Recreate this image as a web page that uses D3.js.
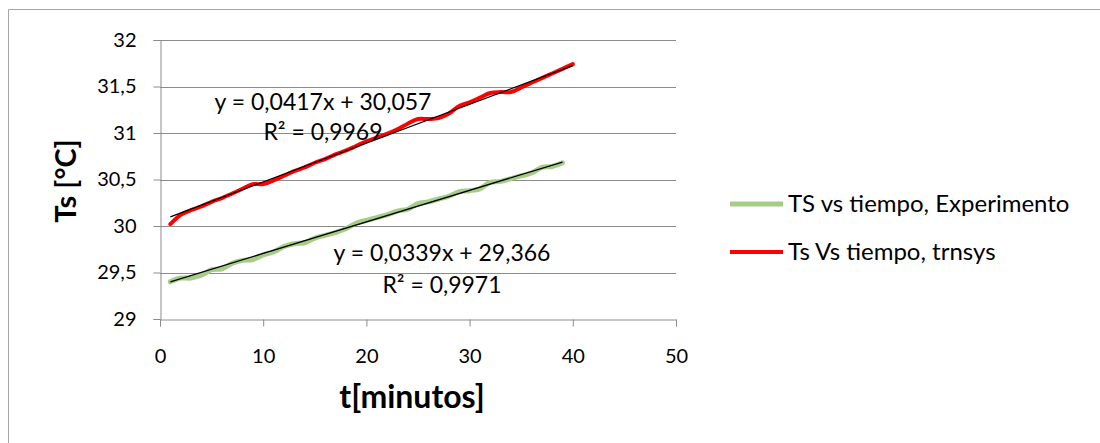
<!DOCTYPE html>
<html>
<head>
<meta charset="utf-8">
<script src="https://cdn.jsdelivr.net/npm/d3@7"></script>
<style>
  html, body { margin: 0; padding: 0; background: #fff; }
  svg { display: block; font-family: Lato, "Open Sans", sans-serif; }
</style>
</head>
<body>
<svg id="chart" width="1100" height="443"></svg>
<script>
// Time in minutes
const minutesExp = d3.range(1, 40);   // 1..39
const minutesSim = d3.range(1, 41);   // 1..40

// Surface temperature, experiment (°C)
const tsExperiment = [29.40, 29.44, 29.44, 29.47, 29.53, 29.54, 29.60, 29.63, 29.64, 29.69,
                      29.72, 29.78, 29.81, 29.82, 29.87, 29.90, 29.93, 29.97, 30.03, 30.06,
                      30.09, 30.12, 30.16, 30.18, 30.24, 30.26, 30.29, 30.32, 30.37, 30.38,
                      30.40, 30.47, 30.48, 30.51, 30.54, 30.57, 30.63, 30.64, 30.68];

// Surface temperature, TRNSYS simulation (°C)
const tsTrnsys = [30.02, 30.12, 30.17, 30.21, 30.26, 30.30, 30.35, 30.40, 30.45, 30.45,
                  30.49, 30.54, 30.59, 30.63, 30.68, 30.72, 30.77, 30.81, 30.86, 30.91,
                  30.95, 30.99, 31.04, 31.10, 31.15, 31.15, 31.16, 31.21, 31.29, 31.33,
                  31.38, 31.43, 31.44, 31.44, 31.49, 31.54, 31.59, 31.64, 31.69, 31.74];

// Linear fits: [slope, intercept, R²]
const fitExperiment = [0.0339, 29.366, 0.9971];
const fitTrnsys = [0.0417, 30.057, 0.9969];

const seriesNames = ["TS vs tiempo, Experimento", "Ts Vs tiempo, trnsys"];
const seriesColors = ["#a6cd88", "#ff0000"];
const xTicks = [0, 10, 20, 30, 40, 50];
const yTicks = [29, 29.5, 30, 30.5, 31, 31.5, 32];

const svg = d3.select("#chart");
const fmt = v => String(v).replace(".", ",");

// Outer chart frame
svg.append("path")
  .attr("d", "M8.5,443 V9.5 H1100")
  .attr("fill", "none").attr("stroke", "#a6a6a6").attr("stroke-width", 1);

const plot = { left: 160, right: 676, top: 40, bottom: 319 };
const x = d3.scaleLinear().domain([0, 50]).range([plot.left, plot.right]);
const y = d3.scaleLinear().domain([29, 32]).range([plot.bottom, plot.top]);

// Horizontal gridlines
svg.append("g").selectAll("line").data(yTicks.slice(1)).join("line")
  .attr("x1", plot.left).attr("x2", plot.right)
  .attr("y1", d => Math.round(y(d)) + 0.5).attr("y2", d => Math.round(y(d)) + 0.5)
  .attr("stroke", "#8c8c8c").attr("stroke-width", 1);

// Y axis
const yAxis = svg.append("g")
  .attr("transform", `translate(${plot.left + 0.5},0)`)
  .call(d3.axisLeft(y).tickValues(yTicks).tickFormat(fmt).tickSize(7).tickPadding(17));
// X axis
const xAxis = svg.append("g")
  .attr("transform", `translate(0,${plot.bottom + 0.5})`)
  .call(d3.axisBottom(x).tickValues(xTicks).tickSize(7).tickPadding(22));

[yAxis, xAxis].forEach(g => {
  g.select(".domain").attr("stroke", "#8c8c8c");
  g.selectAll(".tick line").attr("stroke", "#8c8c8c");
  g.selectAll(".tick text").attr("fill", "#000").attr("font-size", 20)
    .attr("font-family", "Lato, 'Open Sans', sans-serif");
});

// Smoothed data lines
const line = d3.line().x(d => x(d[0])).y(d => y(d[1])).curve(d3.curveCatmullRom.alpha(0.5));
const expPts = minutesExp.map((m, i) => [m, tsExperiment[i]]);
const simPts = minutesSim.map((m, i) => [m, tsTrnsys[i]]);

svg.append("path").datum(expPts).attr("d", line)
  .attr("fill", "none").attr("stroke", seriesColors[0]).attr("stroke-width", 5)
  .attr("stroke-linecap", "round").attr("stroke-linejoin", "round");
svg.append("path").datum(simPts).attr("d", line)
  .attr("fill", "none").attr("stroke", seriesColors[1]).attr("stroke-width", 4)
  .attr("stroke-linecap", "round").attr("stroke-linejoin", "round");

// Trend lines from the fitted coefficients
function trend(fit, xs) {
  const x0 = d3.min(xs), x1 = d3.max(xs);
  svg.append("line")
    .attr("x1", x(x0)).attr("y1", y(fit[0] * x0 + fit[1]))
    .attr("x2", x(x1)).attr("y2", y(fit[0] * x1 + fit[1]))
    .attr("stroke", "#000").attr("stroke-width", 1.3);
}
trend(fitExperiment, minutesExp);
trend(fitTrnsys, minutesSim);

// Fit equation labels
function eqLabel(fit, cx, cy, gap) {
  const g = svg.append("g").attr("font-size", 23).attr("fill", "#000").attr("text-anchor", "middle");
  g.append("text").attr("x", cx).attr("y", cy)
    .text(`y = ${fmt(fit[0])}x + ${fmt(fit[1])}`);
  g.append("text").attr("x", cx).attr("y", cy + gap)
    .text(`R² = ${fmt(fit[2])}`);
}
eqLabel(fitTrnsys, 323, 110, 30);
eqLabel(fitExperiment, 442, 261, 32);

// Axis titles
svg.append("text").attr("x", 412).attr("y", 408).attr("text-anchor", "middle")
  .attr("font-size", 32).attr("font-weight", "bold").text("t[minutos]");
svg.append("text").attr("transform", "translate(76,181) rotate(-90)")
  .attr("text-anchor", "middle").attr("font-size", 29).attr("font-weight", "bold").text("Ts [°C]");

// Legend
const legend = svg.append("g");
seriesNames.forEach((name, i) => {
  const ly = 204 + i * 48;
  legend.append("line").attr("x1", 730).attr("x2", 783).attr("y1", ly).attr("y2", ly)
    .attr("stroke", seriesColors[i]).attr("stroke-width", i === 0 ? 5 : 4);
  legend.append("text").attr("x", 788).attr("y", ly + 8)
    .attr("font-size", 24).attr("fill", "#000").text(name);
});
</script>
</body>
</html>
